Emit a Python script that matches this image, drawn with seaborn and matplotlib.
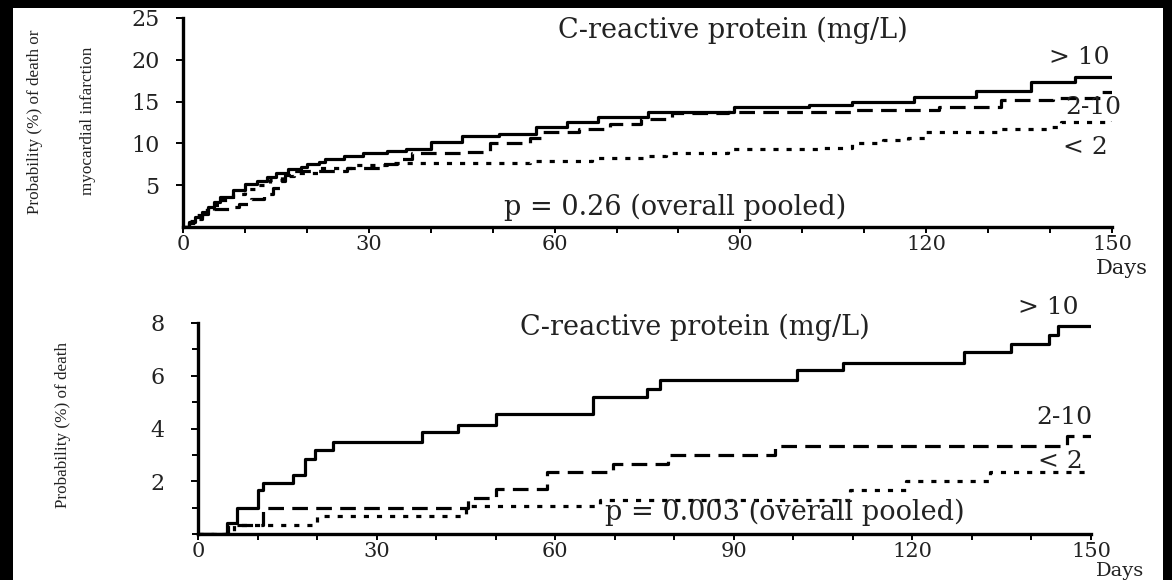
import numpy as np
import pandas as pd
import seaborn as sns
import matplotlib.pyplot as plt
from matplotlib.patches import Rectangle
from matplotlib.ticker import MultipleLocator

# Kaplan-Meier style step curves

groups = ['> 10', '2-10', '< 2']

# top panel: death or myocardial infarction
top_days_hi = [0, 1, 2, 3, 4, 5, 6, 8, 10, 12, 13.5, 15, 17, 19, 20, 22, 23, 26, 29, 33, 36, 40, 45, 51, 57, 62, 67, 75, 89, 101, 108, 118, 128, 137, 144, 150]
top_prob_hi = [0, 0.6, 1.2, 1.8, 2.4, 3.0, 3.6, 4.4, 5.2, 5.5, 6.0, 6.4, 6.9, 7.2, 7.5, 7.8, 8.1, 8.5, 8.9, 9.1, 9.3, 10.2, 10.9, 11.1, 12.0, 12.5, 13.1, 13.8, 14.3, 14.6, 15.0, 15.6, 16.3, 17.4, 18.0, 18.0]
top_days_mid = [0, 1, 2, 3, 4, 5, 7.5, 9, 11, 13, 14.5, 15.7, 16.5, 17.5, 26.5, 32, 34.5, 37, 45, 49.6, 56, 58, 64, 69, 74, 79, 88, 108, 122, 132, 140.5, 148, 150]
top_prob_mid = [0, 0.5, 1.0, 1.5, 1.9, 2.1, 2.4, 2.8, 3.3, 3.9, 4.7, 5.5, 6.2, 6.7, 7.1, 7.5, 8.1, 8.9, 9.0, 10.1, 10.6, 11.4, 11.7, 12.3, 12.9, 13.6, 13.7, 14.0, 14.3, 15.2, 15.4, 16.1, 16.1]
top_days_lo = [0, 1, 2, 3, 4, 6, 8, 10, 12, 14, 16, 18, 22, 28, 33, 56, 66, 75, 78, 88, 103, 108, 113, 117, 120, 132, 139.6, 141.7, 150]
top_prob_lo = [0, 0.7, 1.4, 2.0, 2.6, 3.2, 3.9, 4.5, 5.0, 5.6, 6.1, 6.5, 7.0, 7.4, 7.7, 7.9, 8.2, 8.5, 8.8, 9.3, 9.5, 10.0, 10.4, 10.7, 11.4, 11.7, 12.0, 12.5, 12.7]

# bottom panel: death
bot_days_hi = [0, 4.8, 6.5, 10, 11, 16, 18, 19.7, 22.6, 37.6, 43.7, 50, 66.4, 75.4, 77.6, 100.6, 108.4, 128.6, 136.5, 143, 144.5, 150]
bot_prob_hi = [0, 0.4, 1.0, 1.65, 1.95, 2.25, 2.85, 3.2, 3.5, 3.85, 4.15, 4.55, 5.2, 5.5, 5.85, 6.2, 6.5, 6.9, 7.2, 7.55, 7.9, 7.9]
bot_days_mid = [0, 5, 11, 45.4, 50, 58.6, 69.7, 79, 97, 146, 150]
bot_prob_mid = [0, 0.35, 1.0, 1.35, 1.7, 2.35, 2.65, 3.0, 3.35, 3.7, 3.7]
bot_days_lo = [0, 6, 20, 45, 67.6, 109.6, 119, 133, 150]
bot_prob_lo = [0, 0.35, 0.7, 1.05, 1.3, 1.65, 2.0, 2.35, 2.35]

top_yticks = [5, 10, 15, 20, 25]
bot_yticks = [2, 4, 6, 8]
xticks = [0, 30, 60, 90, 120, 150]


def long_df(days, probs):
    frames = []
    for g, d, p in zip(groups, days, probs):
        frames.append(pd.DataFrame({'day': d, 'prob': p, 'crp': g}))
    return pd.concat(frames, ignore_index=True)


top_df = long_df([top_days_hi, top_days_mid, top_days_lo], [top_prob_hi, top_prob_mid, top_prob_lo])
bot_df = long_df([bot_days_hi, bot_days_mid, bot_days_lo], [bot_prob_hi, bot_prob_mid, bot_prob_lo])

sns.set_theme(style='ticks')
plt.rcParams['font.family'] = ['DejaVu Serif']

W, H = 1172, 580
fig = plt.figure(figsize=(W / 100, H / 100), dpi=100)
fig.patch.set_facecolor('black')
fig.add_artist(Rectangle((13 / W, 0), 1150 / W, 572 / H, transform=fig.transFigure,
                         facecolor='white', edgecolor='none', zorder=-10))

dash_map = {'> 10': '', '2-10': (4.9, 2.6), '< 2': (1.6, 2.5)}
serif = 'DejaVu Serif'
narrow = 'Liberation Serif'


def fx(x, y):
    return x / W, 1 - y / H


def style_axes(ax, ymax, yticks, ypad):
    ax.set_facecolor('white')
    ax.set_xlim(0, 150)
    ax.set_ylim(0, ymax)
    ax.set_xticks(xticks)
    ax.set_yticks(yticks)
    ax.xaxis.set_minor_locator(MultipleLocator(10))
    sns.despine(ax=ax)
    for s in ['left', 'bottom']:
        ax.spines[s].set_linewidth(2.4)
        ax.spines[s].set_color('black')
    ax.tick_params(axis='both', which='both', direction='out', color='black', width=1.4)
    ax.tick_params(axis='x', which='major', length=4, pad=2, labelsize=15)
    ax.tick_params(axis='x', which='minor', length=4)
    ax.tick_params(axis='y', which='major', length=5, pad=ypad, labelsize=16)
    ax.tick_params(axis='y', which='minor', length=4)
    for lab in ax.get_xticklabels() + ax.get_yticklabels():
        lab.set_fontfamily(serif)
        lab.set_color('#222222')
    ax.set_xlabel('')
    ax.set_ylabel('')


# top panel
ax1 = fig.add_axes([183 / W, 1 - 227 / H, (1112 - 183) / W, (227 - 18) / H])
sns.lineplot(data=top_df, x='day', y='prob', style='crp', dashes=dash_map, color='black',
             drawstyle='steps-post', estimator=None, lw=2.3, legend=False, ax=ax1)
style_axes(ax1, 25, top_yticks, 12)

# bottom panel
ax2 = fig.add_axes([198 / W, 1 - 534 / H, (1091 - 198) / W, (534 - 323) / H])
sns.lineplot(data=bot_df, x='day', y='prob', style='crp', dashes=dash_map, color='black',
             drawstyle='steps-post', estimator=None, lw=2.3, legend=False, ax=ax2)
style_axes(ax2, 8, bot_yticks, 19)
ax2.yaxis.set_minor_locator(MultipleLocator(1))

txt = dict(color='#222222', ha='center', va='center', family=serif)

# top annotations
fig.text(*fx(733, 30), 'C-reactive protein (mg/L)', fontsize=19.5, **txt)
fig.text(*fx(675, 207), 'p = 0.26 (overall pooled)', fontsize=19.5, **txt)
fig.text(*fx(1079, 58), '> 10', fontsize=18, **txt)
fig.text(*fx(1093, 108), '2-10', fontsize=18, **txt)
fig.text(*fx(1085, 147), '< 2', fontsize=18, **txt)
fig.text(*fx(1122, 268), 'Days', fontsize=15, **txt)

# bottom annotations
fig.text(*fx(695, 327), 'C-reactive protein (mg/L)', fontsize=19.5, **txt)
fig.text(*fx(785, 512), 'p = 0.003 (overall pooled)', fontsize=19.5, **txt)
fig.text(*fx(1048, 307), '> 10', fontsize=18, **txt)
fig.text(*fx(1064, 417), '2-10', fontsize=18, **txt)
fig.text(*fx(1060, 462), '< 2', fontsize=18, **txt)
fig.text(*fx(1120, 571), 'Days', fontsize=14, **txt)

# rotated y labels (squeezed in the scan)
ylab = dict(color='#222222', ha='center', va='center', rotation=90, family=narrow)
fig.text(*fx(35, 122), 'Probability (%) of death or', fontsize=12.3, **ylab)
fig.text(*fx(88, 121), 'myocardial infarction', fontsize=12.3, **ylab)
fig.text(*fx(63, 425), 'Probability (%) of death', fontsize=12.3, **ylab)

fig.savefig('out.png', dpi=100, facecolor=fig.get_facecolor())
